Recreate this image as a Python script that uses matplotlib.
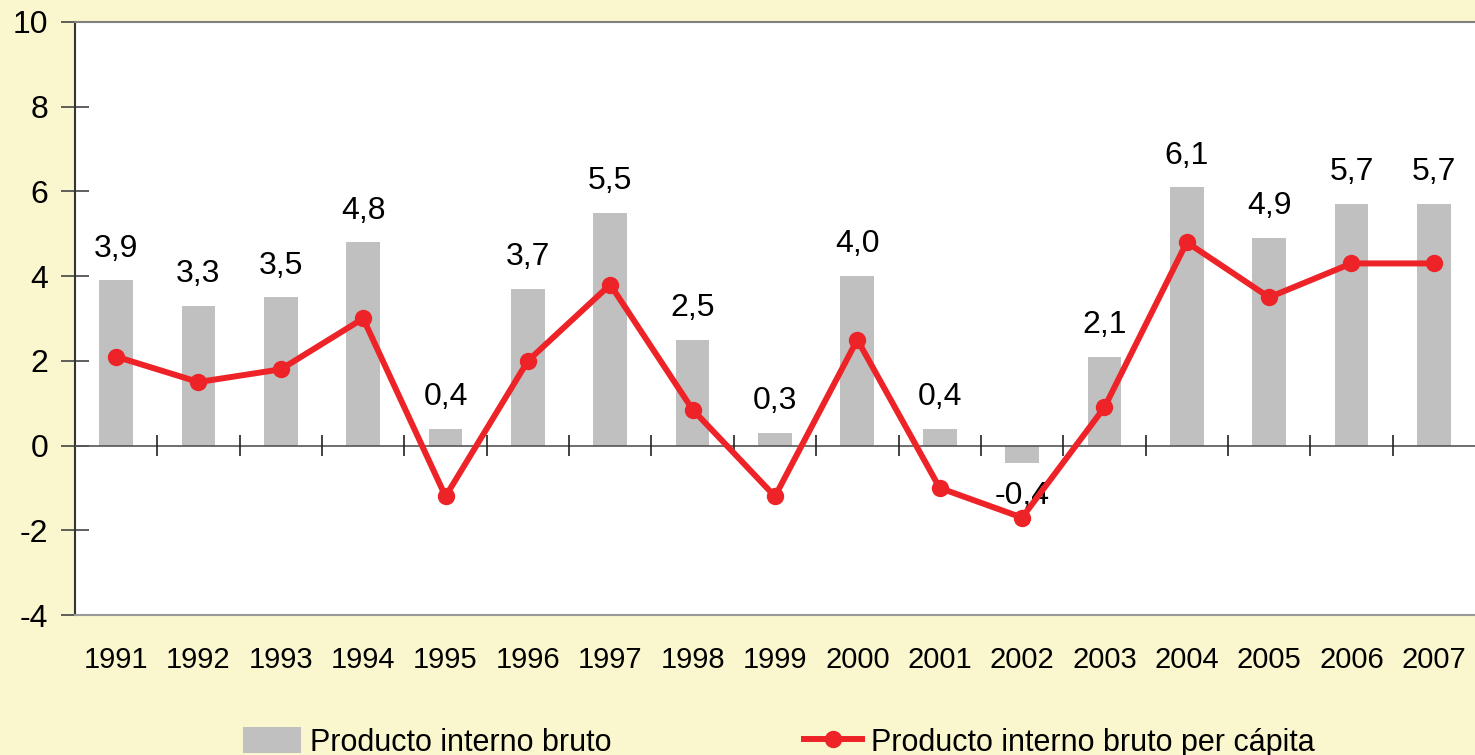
import numpy as np
from matplotlib import pyplot as plt
from matplotlib.patches import Patch
from matplotlib.lines import Line2D

years = ["1991", "1992", "1993", "1994", "1995", "1996", "1997", "1998", "1999",
         "2000", "2001", "2002", "2003", "2004", "2005", "2006", "2007"]
pib = [3.9, 3.3, 3.5, 4.8, 0.4, 3.7, 5.5, 2.5, 0.3, 4.0, 0.4, -0.4, 2.1, 6.1, 4.9, 5.7, 5.7]
pib_pc = [2.1, 1.5, 1.8, 3.0, -1.2, 2.0, 3.8, 0.85, -1.2, 2.5, -1.0, -1.7, 0.9, 4.8, 3.5, 4.3, 4.3]
yticks = [-4, -2, 0, 2, 4, 6, 8, 10]

BG = "#faf6cd"
GRAY = "#c0c0c0"
RED = "#ee2328"

plt.rcParams['font.family'] = ['Liberation Sans', 'DejaVu Sans']

fig = plt.figure(figsize=(14.75, 7.55), dpi=100)
fig.patch.set_facecolor(BG)
ax = fig.add_axes([0.0508, 0.1854, 0.9492, 0.7855])
ax.set_facecolor("white")

x = np.arange(len(years))
ax.bar(x, pib, width=0.41, color=GRAY, zorder=2)
ax.plot(x, pib_pc, color=RED, lw=4.3, marker="o", ms=11.5, zorder=4)

# value labels on bars
for xi, v in zip(x, pib):
    lab = f"{v:.1f}".replace(".", ",")
    if v >= 0:
        ax.annotate(lab, (xi, v), xytext=(0, 12), textcoords="offset points",
                    ha="center", va="bottom", fontsize=23, zorder=5)
    else:
        ax.annotate(lab, (xi, v), xytext=(0, -13), textcoords="offset points",
                    ha="center", va="top", fontsize=23, zorder=3)

ax.set_xlim(-0.5, len(years) - 0.5)
ax.set_ylim(-4, 10)

# zero line with category separators
ax.axhline(0, color="#555555", lw=1.2, zorder=3)
ax.vlines(x[:-1] + 0.5, -0.24, 0.24, color="#222222", lw=1.2, zorder=3)

ax.set_xticks(x, years, fontsize=21)
ax.tick_params(axis="x", length=0, pad=22)
ax.set_yticks(yticks, [str(t) for t in yticks], fontsize=23)
ax.tick_params(axis="y", direction="inout", length=20, width=1.2, color="#444444", pad=9)

ax.spines["right"].set_visible(False)
ax.spines["top"].set_color("#808080")
ax.spines["top"].set_linewidth(1.5)
ax.spines["bottom"].set_color("#999999")
ax.spines["bottom"].set_linewidth(1.5)
ax.spines["left"].set_color("#333333")
ax.spines["left"].set_linewidth(1.5)

handles = [Patch(facecolor=GRAY, edgecolor="none"),
           Line2D([], [], color=RED, lw=4.3, marker="o", ms=11.5)]
labels = ["Producto interno bruto", "Producto interno bruto per cápita"]
fig.legend(handles, labels, loc="lower center", ncol=2, frameon=False,
           bbox_to_anchor=(0.528, -0.04), columnspacing=6.3, handlelength=1.9,
           handleheight=0.9, handletextpad=0.3,
           prop={"family": ["Liberation Sans Narrow", "Liberation Sans"], "size": 22})

fig.savefig("out.png", dpi=100, facecolor=BG)
